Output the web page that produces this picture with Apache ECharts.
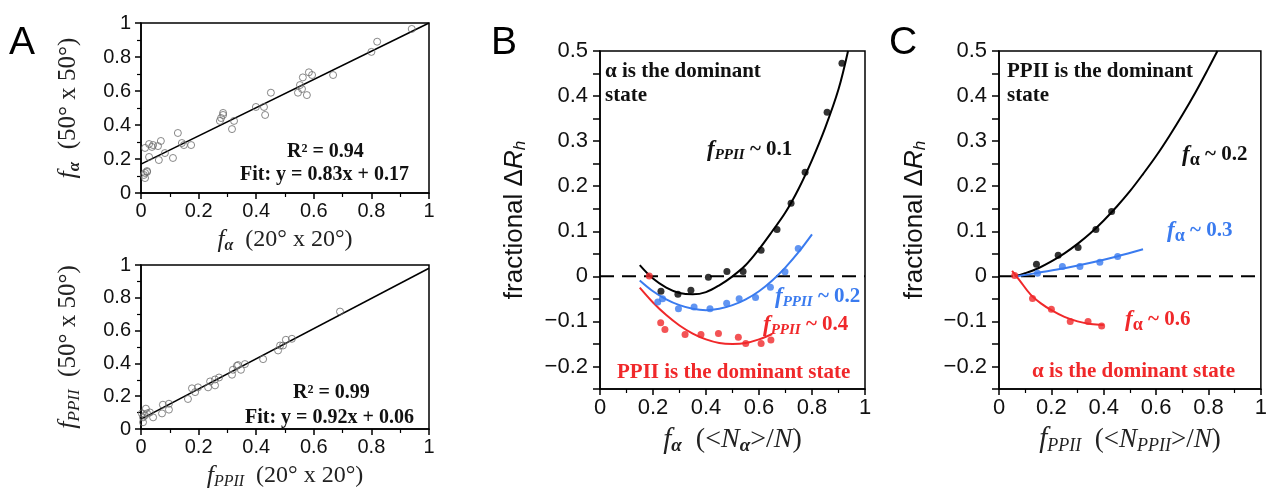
<!DOCTYPE html>
<html><head><meta charset="utf-8">
<script src="https://cdn.jsdelivr.net/npm/echarts@6/dist/echarts.min.js"></script>
<style>html,body{margin:0;padding:0;background:#fff}#c{width:1270px;height:491px}</style>
</head><body><div id="c"></div>
<script>
// ---------- Panel A (top): f_alpha 50x50 vs 20x20 ----------
const aTopX = [0.94,0.82,0.80,0.667,0.594,0.583,0.562,0.552,0.559,0.545,0.576,0.451,0.427,0.399,0.431,0.323,0.285,0.285,0.278,0.274,0.316,0.128,0.142,0.149,0.174,0.069,0.059,0.042,0.028,0.014,0.038,0.083,0.111,0.062,0.028,0.021,0.014,0.010,0.014,0.021];
const aTopY = [0.965,0.89,0.83,0.694,0.694,0.71,0.68,0.635,0.612,0.59,0.576,0.59,0.506,0.506,0.459,0.424,0.471,0.459,0.441,0.424,0.376,0.353,0.294,0.282,0.282,0.306,0.276,0.282,0.288,0.265,0.271,0.235,0.206,0.194,0.212,0.124,0.118,0.106,0.088,0.129];
const aTopFitX = [0, 1];
const aTopFitY = [0.17, 1.0];
// ---------- Panel A (bottom): f_PPII ----------
const aBotX = [0.691,0.524,0.503,0.493,0.483,0.476,0.424,0.361,0.337,0.333,0.347,0.319,0.316,0.271,0.257,0.24,0.257,0.233,0.198,0.188,0.177,0.163,0.097,0.097,0.076,0.073,0.042,0.031,0.017,0.003,0.007,0.007,0.014,0.021];
const aBotY = [0.716,0.55,0.544,0.509,0.509,0.479,0.426,0.396,0.39,0.385,0.361,0.361,0.331,0.314,0.302,0.29,0.266,0.254,0.254,0.225,0.248,0.183,0.154,0.118,0.148,0.095,0.071,0.101,0.124,0.095,0.071,0.041,0.083,0.095];
const aBotFitX = [0, 1];
const aBotFitY = [0.06, 0.98];
// ---------- Panel B ----------
const bBlackX = [0.23,0.294,0.343,0.409,0.479,0.54,0.608,0.668,0.721,0.774,0.857,0.913];
const bBlackY = [-0.033,-0.04,-0.031,-0.002,0.011,0.011,0.058,0.104,0.162,0.231,0.364,0.473];
const bBlackFitX = [0.15,0.2,0.25,0.3,0.35,0.4,0.45,0.5,0.55,0.6,0.65,0.7,0.75,0.8,0.85,0.9,0.936];
const bBlackFitY = [0.025,-0.005,-0.025,-0.037,-0.04,-0.035,-0.02,0.0,0.025,0.06,0.10,0.142,0.195,0.258,0.33,0.415,0.5];
const bBlueX = [0.218,0.236,0.296,0.355,0.415,0.478,0.525,0.587,0.643,0.698,0.748];
const bBlueY = [-0.057,-0.05,-0.072,-0.068,-0.072,-0.06,-0.05,-0.047,-0.024,0.01,0.062];
const bBlueFitX = [0.15,0.2,0.25,0.3,0.35,0.4,0.45,0.5,0.55,0.6,0.65,0.7,0.75,0.8];
const bBlueFitY = [-0.009,-0.033,-0.051,-0.064,-0.072,-0.075,-0.072,-0.064,-0.051,-0.033,-0.009,0.02,0.054,0.093];
const bRedX = [0.186,0.229,0.245,0.321,0.381,0.447,0.522,0.55,0.608,0.645];
const bRedY = [0.001,-0.103,-0.118,-0.129,-0.129,-0.127,-0.135,-0.149,-0.149,-0.141];
const bRedFitX = [0.15,0.2,0.25,0.3,0.35,0.4,0.45,0.5,0.55,0.6,0.65];
const bRedFitY = [-0.025,-0.058,-0.086,-0.109,-0.127,-0.14,-0.148,-0.15,-0.148,-0.14,-0.128];
// ---------- Panel C ----------
const cBlackX = [0.143,0.226,0.302,0.37,0.43];
const cBlackY = [0.027,0.047,0.064,0.104,0.144];
const cBlackFitX = [0.06,0.1,0.15,0.2,0.25,0.3,0.35,0.4,0.45,0.5,0.55,0.6,0.65,0.7,0.75,0.8,0.834];
const cBlackFitY = [0,0.007,0.018,0.033,0.051,0.072,0.096,0.124,0.155,0.189,0.227,0.267,0.311,0.358,0.408,0.462,0.5];
const cBlueX = [0.147,0.242,0.309,0.385,0.453];
const cBlueY = [0.007,0.022,0.022,0.031,0.044];
const cBlueFitX = [0.07,0.15,0.25,0.35,0.45,0.55];
const cBlueFitY = [0,0.008,0.018,0.03,0.044,0.06];
const cRedX = [0.06,0.128,0.2,0.272,0.34,0.392];
const cRedY = [0.002,-0.049,-0.073,-0.1,-0.1,-0.11];
const cRedFitX = [0.05,0.08,0.12,0.16,0.2,0.25,0.3,0.35,0.4];
const cRedFitY = [0.012,-0.01,-0.04,-0.06,-0.075,-0.09,-0.1,-0.106,-0.108];
// zero reference line (B and C)
const zeroX = [0, 1];
const zeroY = [0, 0];

const BLUE = '#3a7bef', RED = '#f0282a';
const zip = (xs, ys) => xs.map((x, i) => [x, ys[i]]);

const serif = 'Liberation Serif';
const sans = 'Liberation Sans';
function nameRich(k) {
  return {
    f: {fontFamily: serif, fontStyle: 'italic', fontSize: Math.round(22 * k), color: '#222'},
    s: {fontFamily: serif, fontStyle: 'italic', fontWeight: 'bold', fontSize: Math.round(14 * k), color: '#222', padding: [Math.round(10 * k), 0, 0, 0]},
    sp: {fontFamily: serif, fontStyle: 'italic', fontSize: Math.round(14 * k), color: '#222', padding: [Math.round(10 * k), 0, 0, 0]},
    t: {fontFamily: serif, fontSize: Math.round(21 * k), color: '#222'},
    ti: {fontFamily: serif, fontStyle: 'italic', fontSize: Math.round(21 * k), color: '#222'},
    g: {fontFamily: sans, fontSize: Math.round(22 * k), color: '#111'},
    gi: {fontFamily: sans, fontStyle: 'italic', fontSize: Math.round(22 * k), color: '#111'},
    gs: {fontFamily: sans, fontStyle: 'italic', fontSize: Math.round(14 * k), color: '#111', padding: [Math.round(10 * k), 0, 0, 0]}
  };
}

function xAx(gi, fs, name, gap, k) {
  return {
    type: 'value', gridIndex: gi, min: 0, max: 1, interval: 0.2,
    axisLine: {show: true, onZero: false, lineStyle: {color: '#000', width: 1.5}},
    axisTick: {show: true, length: 6, lineStyle: {color: '#000', width: 1.5}},
    minorTick: {show: true, splitNumber: 2, length: 4, lineStyle: {color: '#000', width: 1.2}},
    splitLine: {show: false},
    axisLabel: {fontFamily: sans, fontSize: fs, color: '#111', margin: 8},
    name: name, nameLocation: 'middle', nameGap: gap,
    nameTextStyle: {rich: nameRich(k)}
  };
}
function yAxA(gi, name, k) {
  return {
    type: 'value', gridIndex: gi, min: 0, max: 1, interval: 0.2,
    axisLine: {show: true, onZero: false, lineStyle: {color: '#000', width: 1.5}},
    axisTick: {show: true, length: 6, lineStyle: {color: '#000', width: 1.5}},
    minorTick: {show: true, splitNumber: 2, length: 4, lineStyle: {color: '#000', width: 1.2}},
    splitLine: {show: false},
    axisLabel: {fontFamily: sans, fontSize: 20, color: '#111', margin: 10},
    name: name, nameLocation: 'middle', nameGap: 58, nameRotate: 90,
    nameTextStyle: {rich: nameRich(k)}
  };
}
function yAxB(gi, gap) {
  return {
    type: 'value', gridIndex: gi, min: -0.25, max: 0.5, interval: 0.05,
    axisLine: {show: true, onZero: false, lineStyle: {color: '#000', width: 1.5}},
    axisTick: {show: true, length: 7, lineStyle: {color: '#000', width: 1.5}},
    splitLine: {show: false},
    axisLabel: {fontFamily: sans, fontSize: 22, color: '#111', margin: 12,
      formatter: v => {
        const k = Math.round(v * 100);
        if (k % 10 !== 0) return '';
        const s = (k / 100).toString();
        return s.replace('-', '\u2212');
      }},
    name: '{g|fractional \u0394}{gi|R}{gs|h}', nameLocation: 'middle', nameGap: gap, nameRotate: 90,
    nameTextStyle: {rich: nameRich(1.2)}
  };
}

const series = [];
function scatA(gi, xs, ys) {
  series.push({type: 'scatter', xAxisIndex: gi, yAxisIndex: gi, data: zip(xs, ys), symbol: 'circle', symbolSize: 7,
    itemStyle: {color: 'rgba(0,0,0,0)', borderColor: '#6a6a6a', borderWidth: 1}, z: 3, silent: true});
}
function fitLine(gi, xs, ys, color, w, smooth, dash) {
  series.push({type: 'line', xAxisIndex: gi, yAxisIndex: gi, data: zip(xs, ys), smooth: smooth ? 0.35 : false,
    showSymbol: false, symbol: 'none', lineStyle: {color: color, width: w, type: dash || 'solid'}, z: 2, silent: true});
}
function dots(gi, xs, ys, color) {
  series.push({type: 'scatter', xAxisIndex: gi, yAxisIndex: gi, data: zip(xs, ys), symbolSize: 7,
    itemStyle: {color: color}, z: 4, silent: true});
}

scatA(0, aTopX, aTopY); fitLine(0, aTopFitX, aTopFitY, '#000', 1.6, false);
scatA(1, aBotX, aBotY); fitLine(1, aBotFitX, aBotFitY, '#000', 1.6, false);

fitLine(2, zeroX, zeroY, '#000', 2, false, [14, 8]);
fitLine(2, bBlackFitX, bBlackFitY, '#000', 2, true);
fitLine(2, bBlueFitX, bBlueFitY, BLUE, 2, true);
fitLine(2, bRedFitX, bRedFitY, RED, 2, true);
dots(2, bBlackX, bBlackY, '#000'); dots(2, bBlueX, bBlueY, BLUE); dots(2, bRedX, bRedY, RED);

fitLine(3, zeroX, zeroY, '#000', 2, false, [14, 8]);
fitLine(3, cBlackFitX, cBlackFitY, '#000', 2, true);
fitLine(3, cBlueFitX, cBlueFitY, BLUE, 2, true);
fitLine(3, cRedFitX, cRedFitY, RED, 2, true);
dots(3, cBlackX, cBlackY, '#000'); dots(3, cBlueX, cBlueY, BLUE); dots(3, cRedX, cRedY, RED);

function annRich(color) {
  return {
    f: {fontFamily: serif, fontStyle: 'italic', fontWeight: 'bold', fontSize: 23, fill: color},
    s: {fontFamily: serif, fontStyle: 'italic', fontWeight: 'bold', fontSize: 15, fill: color, padding: [10, 0, 0, 0]},
    a: {fontFamily: serif, fontWeight: 'bold', fontSize: 18, fill: color, padding: [10, 0, 0, 0]},
    t: {fontFamily: serif, fontWeight: 'bold', fontSize: 21, fill: color}
  };
}
function txt(x, y, text, color, rich, size) {
  return {type: 'text', x: x, y: y, silent: true,
    style: {text: text, fill: color, verticalAlign: 'middle', align: 'left',
      font: 'bold ' + (size || 21) + 'px "Liberation Serif"', rich: rich || undefined, lineHeight: 24}};
}
function letter(x, y, t) {
  return {type: 'text', x: x, y: y, silent: true,
    style: {text: t, fill: '#000', font: '39px "Liberation Sans"', verticalAlign: 'top'}};
}

const graphics = [
  letter(9, 24, 'A'), letter(491, 24, 'B'), letter(889, 24, 'C'),
  txt(287, 152, 'R\u00b2 = 0.94', '#111', null, 20),
  txt(240, 175, 'Fit: y = 0.83x + 0.17', '#111', null, 20),
  txt(293, 393, 'R\u00b2 = 0.99', '#111', null, 20),
  txt(245, 418, 'Fit: y = 0.92x + 0.06', '#111', null, 20),
  txt(605, 84, '\u03b1 is the dominant\nstate', '#111'),
  txt(707, 150, '{f|f}{s|PPII}{t| ~ 0.1}', '#111', annRich('#111')),
  txt(775, 297, '{f|f}{s|PPII}{t| ~ 0.2}', BLUE, annRich(BLUE)),
  txt(763, 325, '{f|f}{s|PPII}{t| ~ 0.4}', RED, annRich(RED)),
  txt(617, 373, 'PPII is the dominant state', RED),
  txt(1007, 84, 'PPII is the dominant\nstate', '#111'),
  txt(1182, 155, '{f|f}{a|\u03b1}{t| ~ 0.2}', '#111', annRich('#111')),
  txt(1167, 231, '{f|f}{a|\u03b1}{t| ~ 0.3}', BLUE, annRich(BLUE)),
  txt(1125, 320, '{f|f}{a|\u03b1}{t| ~ 0.6}', RED, annRich(RED)),
  txt(1032, 372, '\u03b1 is the dominant state', RED)
];

const gridBase = {show: true, borderColor: '#000', borderWidth: 1.5, backgroundColor: 'transparent', containLabel: false};
const option = {
  animation: false,
  backgroundColor: '#fff',
  grid: [
    Object.assign({left: 141, top: 23, width: 288, height: 170}, gridBase),
    Object.assign({left: 141, top: 265, width: 288, height: 169}, gridBase),
    Object.assign({left: 600, top: 51, width: 265, height: 338}, gridBase),
    Object.assign({left: 999, top: 51, width: 265, height: 338}, gridBase)
  ],
  xAxis: [
    xAx(0, 20, '{f|f}{s|\u03b1}{t|  (20\u00b0 x 20\u00b0)}', 33, 1.15),
    xAx(1, 20, '{f|f}{sp|PPII}{t|  (20\u00b0 x 20\u00b0)}', 33, 1.16),
    xAx(2, 22, '{f|f}{s|\u03b1}{t|  (<}{ti|N}{s|\u03b1}{t|>/}{ti|N}{t|)}', 35, 1.33),
    xAx(3, 22, '{f|f}{sp|PPII}{t|  (<}{ti|N}{sp|PPII}{t|>/}{ti|N}{t|)}', 35, 1.3)
  ],
  yAxis: [
    yAxA(0, '{f|f}{s|\u03b1}{t|  (50\u00b0 x 50\u00b0)}', 1.2),
    yAxA(1, '{f|f}{sp|PPII}{t|  (50\u00b0 x 50\u00b0)}', 1.18),
    yAxB(2, 71), yAxB(3, 70)
  ],
  series: series,
  graphic: graphics
};
const chart = echarts.init(document.getElementById('c'), null, {renderer: 'canvas'});
chart.setOption(option);
</script></body></html>
